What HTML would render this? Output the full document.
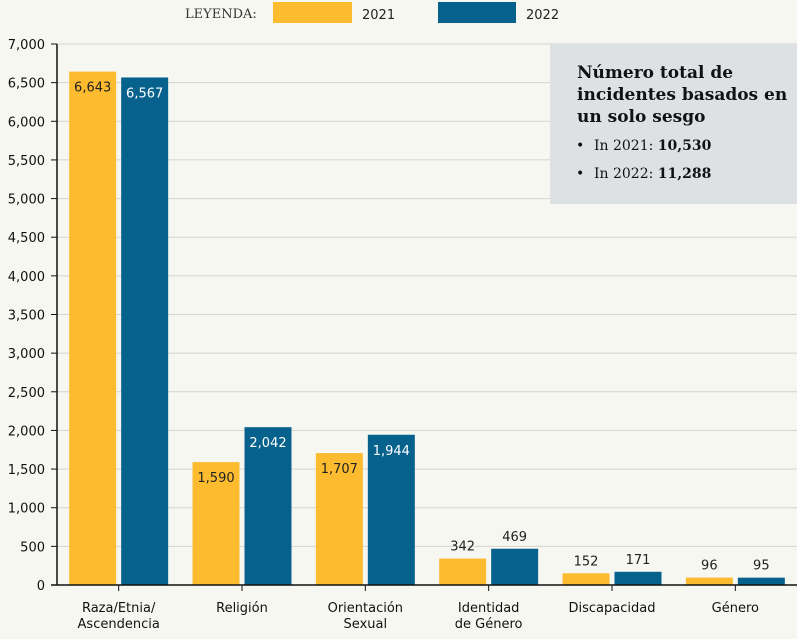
<!DOCTYPE html>
<html><head><meta charset="utf-8"><style>
body{margin:0;background:#f7f7f2;}
svg{display:block;}
</style></head><body>
<svg id="chart" width="797" height="639" xmlns="http://www.w3.org/2000/svg" style="font-family:'DejaVu Sans','Liberation Sans',sans-serif;">
<rect width="797" height="639" fill="#f7f7f2"/>
<g>
<text x="185" y="18" font-family="'DejaVu Serif','Liberation Serif',serif" font-size="13" fill="#333">LEYENDA:</text>
<rect x="273" y="2" width="79" height="21" fill="#fdbb30"/>
<text x="362" y="19" font-size="13" fill="#222">2021</text>
<rect x="438" y="2" width="78" height="21" fill="#06628d"/>
<text x="526" y="19" font-size="13" fill="#222">2022</text>
</g>
<g id="grid"></g>
<g id="bars"></g>
<g id="axes"></g>
<g>
<rect x="550" y="44" width="247" height="160" fill="#dde1e4"/>
<text font-family="'DejaVu Serif','Liberation Serif',serif" font-size="17" font-weight="bold" fill="#111">
<tspan x="577" y="78">Número total de</tspan><tspan x="577" y="100">incidentes basados en</tspan><tspan x="577" y="122">un solo sesgo</tspan></text>
<text font-family="'DejaVu Serif','Liberation Serif',serif" font-size="14" fill="#111">
<tspan x="576" y="150">•</tspan><tspan x="594" y="150">In 2021: </tspan><tspan font-weight="bold">10,530</tspan></text>
<text font-family="'DejaVu Serif','Liberation Serif',serif" font-size="14" fill="#111">
<tspan x="576" y="178">•</tspan><tspan x="594" y="178">In 2022: </tspan><tspan font-weight="bold">11,288</tspan></text>
</g>
</svg>
<script>
const categories=[["Raza/Etnia/","Ascendencia"],["Religión"],["Orientación","Sexual"],["Identidad","de Género"],["Discapacidad"],["Género"]];
const values2021=[6643,1590,1707,342,152,96];
const values2022=[6567,2042,1944,469,171,95];
const yTicks=[0,500,1000,1500,2000,2500,3000,3500,4000,4500,5000,5500,6000,6500,7000];
const NS="http://www.w3.org/2000/svg";
const x0=57,x1=797,y0=585,yTop=44,yMax=7000;
const band=(x1-x0)/categories.length;
function y(v){return y0-(v/yMax)*(y0-yTop);}
function bx(i){return x0+i*band;}
function mk(p,tag,attrs,text){const e=document.createElementNS(NS,tag);for(const k in attrs)e.setAttribute(k,attrs[k]);if(text!==undefined)e.textContent=text;p.appendChild(e);return e;}
const grid=document.getElementById('grid'),bars=document.getElementById('bars'),axes=document.getElementById('axes');
yTicks.forEach(t=>{
  if(t>0){const g=mk(grid,'line',{x1:x0,x2:x1,y1:y(t),y2:y(t),stroke:'#d4d4d0','stroke-width':1});
  
  }
  const tk=mk(axes,'line',{x1:x0-6,x2:x0,y1:y(t),y2:y(t),stroke:'#111'});
  
  
  const l=mk(axes,'text',{x:x0-12,y:y(t)+5,'text-anchor':'end','font-size':13,fill:'#111'},t.toLocaleString('en-US'));
  
  
});
const bw=47;
categories.forEach((c,i)=>{
  const cx=bx(i)+band/2;
  [[values2021[i],'#fdbb30',cx-2.5-bw,'#222','2021'],[values2022[i],'#06628d',cx+2.5,'#fff','2022']].forEach(([v,col,xx,tc,yr])=>{
    const r=mk(bars,'rect',{x:xx,y:y(v),width:bw,height:y0-y(v),fill:col});
    
    
    const inside=(y0-y(v))>40;
    const t=mk(bars,'text',{x:xx+bw/2,y:inside?y(v)+20:y(v)-8,'text-anchor':'middle','font-size':13,fill:inside?tc:'#222'},v.toLocaleString('en-US'));
    
    
  });
  const tk=mk(axes,'line',{x1:cx,x2:cx,y1:y0,y2:y0+6,stroke:'#111'});
  
  
  c.forEach((s,j)=>{
    const l=mk(axes,'text',{x:cx,y:y0+27+j*16,'text-anchor':'middle','font-size':13,fill:'#111'},s);
    
    
  });
});
const ya=mk(axes,'line',{x1:x0,x2:x0,y1:yTop,y2:y0,stroke:'#111','stroke-width':1.5});


const xa=mk(axes,'line',{x1:x0-6,x2:x1,y1:y0,y2:y0,stroke:'#111','stroke-width':1.5});


</script>
</body></html>
